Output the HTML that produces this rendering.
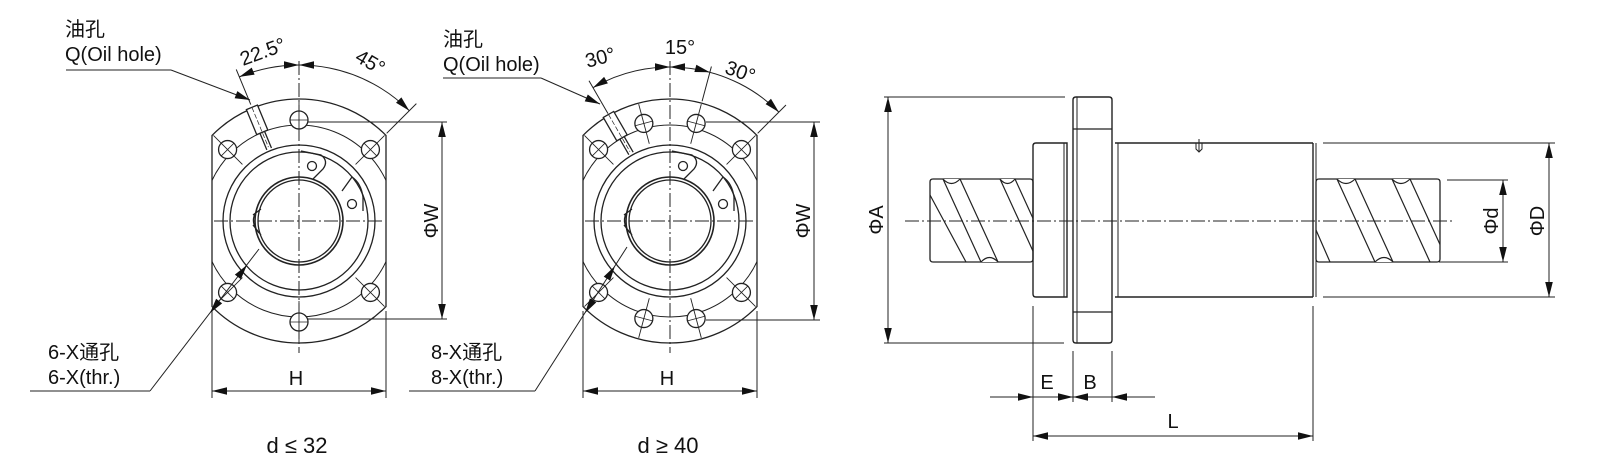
<!DOCTYPE html>
<html><head><meta charset="utf-8"><style>
html,body{margin:0;padding:0;background:#fff;}
svg{display:block;}
text{font-family:"Liberation Sans","Noto Sans CJK SC",sans-serif;fill:#111;}
</style></head><body>
<svg id="s" width="1610" height="461" viewBox="0 0 1610 461" xmlns="http://www.w3.org/2000/svg">
<defs>
<clipPath id="c1"><path d="M212,135.5A122,122 0 0 1 386,135.5L386,306.5A122,122 0 0 1 212,306.5Z"/></clipPath>
<clipPath id="c2"><path d="M583,135.5A122,122 0 0 1 757,135.5L757,306.5A122,122 0 0 1 583,306.5Z"/></clipPath>
</defs>
<g id="g" fill="none" stroke="#222" stroke-width="1.3"></g>
<g font-size="20">
<text x="65" y="36">油孔</text>
<text x="65" y="61">Q(Oil hole)</text>
<text x="443" y="46">油孔</text>
<text x="443" y="71">Q(Oil hole)</text>
<text x="48" y="359">6-X通孔</text>
<text x="48" y="384">6-X(thr.)</text>
<text x="431" y="359">8-X通孔</text>
<text x="431" y="384">8-X(thr.)</text>
<text x="296" y="385" text-anchor="middle">H</text>
<text x="667" y="385" text-anchor="middle">H</text>
<text x="297" y="453" text-anchor="middle" font-size="22">d ≤ 32</text>
<text x="668" y="453" text-anchor="middle" font-size="22">d ≥ 40</text>
<text transform="translate(265,58) rotate(-20)" text-anchor="middle">22.5°</text>
<text transform="translate(367,68) rotate(30)" text-anchor="middle">45°</text>
<text transform="translate(602,64) rotate(-15)" text-anchor="middle">30°</text>
<text transform="translate(680,54)" text-anchor="middle">15°</text>
<text transform="translate(738,78) rotate(20)" text-anchor="middle">30°</text>
<text transform="translate(438,221) rotate(-90)" text-anchor="middle">ΦW</text>
<text transform="translate(810,221) rotate(-90)" text-anchor="middle">ΦW</text>
<text transform="translate(883,220) rotate(-90)" text-anchor="middle">ΦA</text>
<text transform="translate(1498,221) rotate(-90)" text-anchor="middle">Φd</text>
<text transform="translate(1544,221) rotate(-90)" text-anchor="middle">ΦD</text>
<text x="1047" y="389" text-anchor="middle">E</text>
<text x="1090" y="389" text-anchor="middle">B</text>
<text x="1173" y="428" text-anchor="middle">L</text>
</g>
</svg>
<script>
var g=document.getElementById('g'),NS='http://www.w3.org/2000/svg';
function el(t,a){var e=document.createElementNS(NS,t);for(var k in a)e.setAttribute(k,a[k]);g.appendChild(e);return e;}
function L(x1,y1,x2,y2,o){var a={x1:x1,y1:y1,x2:x2,y2:y2};if(o)for(var k in o)a[k]=o[k];return el('line',a);}
function C(cx,cy,r,o){var a={cx:cx,cy:cy,r:r};if(o)for(var k in o)a[k]=o[k];return el('circle',a);}
function P(d,o){var a={d:d};if(o)for(var k in o)a[k]=o[k];return el('path',a);}
var DD={'stroke-dasharray':'14 3 2 3','stroke-width':1};
function pt(cx,cy,r,a){a=a*Math.PI/180;return [cx+r*Math.sin(a),cy-r*Math.cos(a)];}
function arrow(x,y,dx,dy){var l=Math.hypot(dx,dy);dx/=l;dy/=l;var len=15,w=3.8;
 var bx=x-dx*len,by=y-dy*len;P('M'+x+','+y+'L'+(bx-dy*w)+','+(by+dx*w)+'L'+(bx+dy*w)+','+(by-dx*w)+'Z',{fill:'#111',stroke:'none'});}
function arcArrow(cx,cy,r,a,dir){var p=pt(cx,cy,r,a);var ar=a*Math.PI/180;var tx=Math.cos(ar)*dir,ty=Math.sin(ar)*dir;arrow(p[0],p[1],tx,ty);}
function arc(cx,cy,r,a1,a2,o){var p1=pt(cx,cy,r,a1),p2=pt(cx,cy,r,a2);P('M'+p1+'A'+r+','+r+' 0 0 1 '+p2,o);}
function flange(cx,cy,holes,oil,clip){
 var h=87,r=122,dy=Math.sqrt(r*r-h*h);
 P('M'+(cx-h)+','+(cy-dy)+'A'+r+','+r+' 0 0 1 '+(cx+h)+','+(cy-dy)+'L'+(cx+h)+','+(cy+dy)+'A'+r+','+r+' 0 0 1 '+(cx-h)+','+(cy+dy)+'Z');
 C(cx,cy,96,{'stroke-width':1,'clip-path':'url(#'+clip+')'});
 C(cx,cy,76);C(cx,cy,69);C(cx,cy,44,{'stroke-width':1.6});C(cx,cy,41);
 L(cx-85,cy,cx+85,cy,DD);L(cx,cy-160,cx,cy+132,DD);
 holes.forEach(function(a){var p=pt(cx,cy,101,a);C(p[0],p[1],9,{fill:'#fff'});
  var q1=pt(cx,cy,80,a),q2=pt(cx,cy,121,a);L(q1[0],q1[1],q2[0],q2[1],{'stroke-width':0.9,'clip-path':'url(#'+clip+')'});
  var t1=pt(p[0],p[1],9,a+90),t2=pt(p[0],p[1],9,a-90);L(t1[0],t1[1],t2[0],t2[1],{'stroke-width':0.8});});
 P('M'+(cx+2)+','+(cy-70)+'L'+(cx+22)+','+(cy-66)+'Q'+(cx+30)+','+(cy-60)+' '+(cx+24)+','+(cy-52)+'L'+(cx+14)+','+(cy-42));
 C(cx+13,cy-55,4.5);
 P('M'+(cx+43)+','+(cy-30)+'L'+(cx+53)+','+(cy-44)+'Q'+(cx+62)+','+(cy-38)+' '+(cx+64)+','+(cy-24)+'L'+(cx+64)+','+(cy-10));
 C(cx+53,cy-17,4.5);
 P('M'+(cx-42)+','+(cy-10)+'Q'+(cx-50)+','+(cy)+' '+(cx-40)+','+(cy+12)+'M'+(cx-46)+','+(cy-6)+'L'+(cx-38)+','+(cy-12)+'M'+(cx-46)+','+(cy+4)+'L'+(cx-38)+','+(cy+14));
 var ca=Math.cos(oil*Math.PI/180),sa=Math.sin(oil*Math.PI/180);
 function q(r,o){return [cx+r*sa+o*ca,cy-r*ca+o*sa];}
 var a1=q(123,-6),a2=q(123,6),a3=q(96,6),a4=q(96,-6);P('M'+a1+'L'+a2+'L'+a3+'L'+a4+'Z',{fill:'#fff'});
 var b1=q(96,-2.5),b2=q(78,-2.5),b3=q(96,2.5),b4=q(78,2.5);L(b1[0],b1[1],b2[0],b2[1]);L(b3[0],b3[1],b4[0],b4[1]);
 var c1=q(123,0),c2=q(80,0);L(c1[0],c1[1],c2[0],c2[1],{'stroke-width':0.7,'stroke-dasharray':'5 2'});
 L(cx-h,cy+90,cx-h,cy+177,{'stroke-width':1});L(cx+h,cy+90,cx+h,cy+177,{'stroke-width':1});
 L(cx-h,391,cx+h,391,{'stroke-width':1});arrow(cx-h,391,-1,0);arrow(cx+h,391,1,0);
}
flange(299,221,[0,45,135,180,225,315],-22.5,'c1');
flange(670,221,[15,45,135,165,195,225,315,345],-30,'c2');
L(308,122,447,122,{'stroke-width':1});L(308,319,447,319,{'stroke-width':1});L(442,122,442,319,{'stroke-width':1});arrow(442,122,0,-1);arrow(442,319,0,1);
L(706,122,820,122,{'stroke-width':1});L(706,320,820,320,{'stroke-width':1});L(814,122,814,320,{'stroke-width':1});arrow(814,122,0,-1);arrow(814,320,0,1);
(function(){var cx=299,cy=221,r=156;arc(cx,cy,r,-22.5,45,{'stroke-width':1});
 var e1=pt(cx,cy,126,-22.5),e2=pt(cx,cy,164,-22.5);L(e1[0],e1[1],e2[0],e2[1],{'stroke-width':1});
 var f1=pt(cx,cy,124,45),f2=pt(cx,cy,166,45);L(f1[0],f1[1],f2[0],f2[1],{'stroke-width':1});
 arcArrow(cx,cy,r,-22.5,-1);arcArrow(cx,cy,r,0,1);arcArrow(cx,cy,r,0,-1);arcArrow(cx,cy,r,45,1);})();
(function(){var cx=670,cy=221,r=154;arc(cx,cy,r,-30,45,{'stroke-width':1});
 [[-30,124,162],[15,124,160],[45,124,164]].forEach(function(e){var a=pt(cx,cy,e[1],e[0]),b=pt(cx,cy,e[2],e[0]);L(a[0],a[1],b[0],b[1],{'stroke-width':1});});
 arcArrow(cx,cy,r,-30,-1);arcArrow(cx,cy,r,0,1);arcArrow(cx,cy,r,0,-1);arcArrow(cx,cy,r,15,1);arcArrow(cx,cy,r,45,1);})();
L(66,70,171,70,{'stroke-width':1});L(171,70,250,100,{'stroke-width':1});arrow(250,100,79,30);
L(443,78,541,78,{'stroke-width':1});L(541,78,600,104,{'stroke-width':1});arrow(600,104,59,26);
L(30,391,150,391,{'stroke-width':1});L(150,391,259,249,{'stroke-width':1});arrow(247,265,109,-142);arrow(210,313,-109,142);
L(409,391,535,391,{'stroke-width':1});L(535,391,627,247,{'stroke-width':1});arrow(615,266,92,-144);arrow(585,313,-92,144);
L(905,221,1455,221,DD);
P('M1073,100Q1073,97 1076,97L1109,97Q1112,97 1112,100L1112,340Q1112,343 1109,343L1076,343Q1073,343 1073,340Z',{'stroke-width':1.4});
L(1077,97,1077,343,{'stroke-width':1});L(1073,129,1112,129);L(1073,312,1112,312);
P('M1036,143L1067,143L1067,297L1036,297Q1033,297 1033,294L1033,146Q1033,143 1036,143Z',{'stroke-width':1.4});
L(1064,143,1064,297,{'stroke-width':1});
L(1115,143,1313,143,{'stroke-width':1.4});L(1115,297,1313,297,{'stroke-width':1.4});L(1313,143,1313,297,{'stroke-width':1.4});L(1316,143,1316,297,{'stroke-width':1});L(1118,143,1118,297,{'stroke-width':1});
P('M1196,143L1196,149L1199,152L1202,149L1202,143M1199,139L1199,152',{'stroke-width':1});
function screw(x1,x2,starts){
 P('M'+(x1+3)+',179L'+(x2-3)+',179Q'+x2+',179 '+x2+',182L'+x2+',259Q'+x2+',262 '+(x2-3)+',262L'+(x1+3)+',262Q'+x1+',262 '+x1+',259L'+x1+',182Q'+x1+',179 '+(x1+3)+',179Z',{'stroke-width':1.3});
 starts.forEach(function(s){var xa=s,ya=179,xb=s+38,yb=262;if(xb>x2){yb=179+(x2-s)*83/38;xb=x2;}L(xa,ya,xb,yb,{'stroke-width':1.2});});
 starts.forEach(function(s,i){if(i%2==0&&starts[i+1]){P('M'+s+',179Q'+((s+starts[i+1])/2)+',188 '+starts[i+1]+',179',{fill:'#fff','stroke-width':1.2});
   var bs=s+38,be=starts[i+1]+38;if(be<x2)P('M'+bs+',262Q'+((bs+be)/2)+',253 '+be+',262',{fill:'#fff','stroke-width':1.2});}});
}
screw(930,1033,[943,960,1000,1015]);
L(930,195,966,262,{'stroke-width':1.2});
screw(1316,1440,[1337,1355,1392,1410]);
L(1316,230,1330,262,{'stroke-width':1.2});
L(884,97,1065,97,{'stroke-width':1});L(884,343,1064,343,{'stroke-width':1});L(888,97,888,343,{'stroke-width':1});arrow(888,97,0,-1);arrow(888,343,0,1);
L(1323,143,1555,143,{'stroke-width':1});L(1323,297,1555,297,{'stroke-width':1});L(1549,143,1549,297,{'stroke-width':1});arrow(1549,143,0,-1);arrow(1549,297,0,1);
L(1447,180,1508,180,{'stroke-width':1});L(1439,262,1508,262,{'stroke-width':1});L(1503,180,1503,262,{'stroke-width':1});arrow(1503,180,0,-1);arrow(1503,262,0,1);
L(1033,306,1033,441,{'stroke-width':1});L(1073,351,1073,402,{'stroke-width':1});L(1112,351,1112,402,{'stroke-width':1});L(1313,306,1313,441,{'stroke-width':1});
L(990,397,1155,397,{'stroke-width':1});arrow(1033,397,1,0);arrow(1073,397,1,0);arrow(1073,397,-1,0);arrow(1112,397,-1,0);
L(1033,436,1313,436,{'stroke-width':1});arrow(1033,436,-1,0);arrow(1313,436,1,0);
</script>
</body></html>
